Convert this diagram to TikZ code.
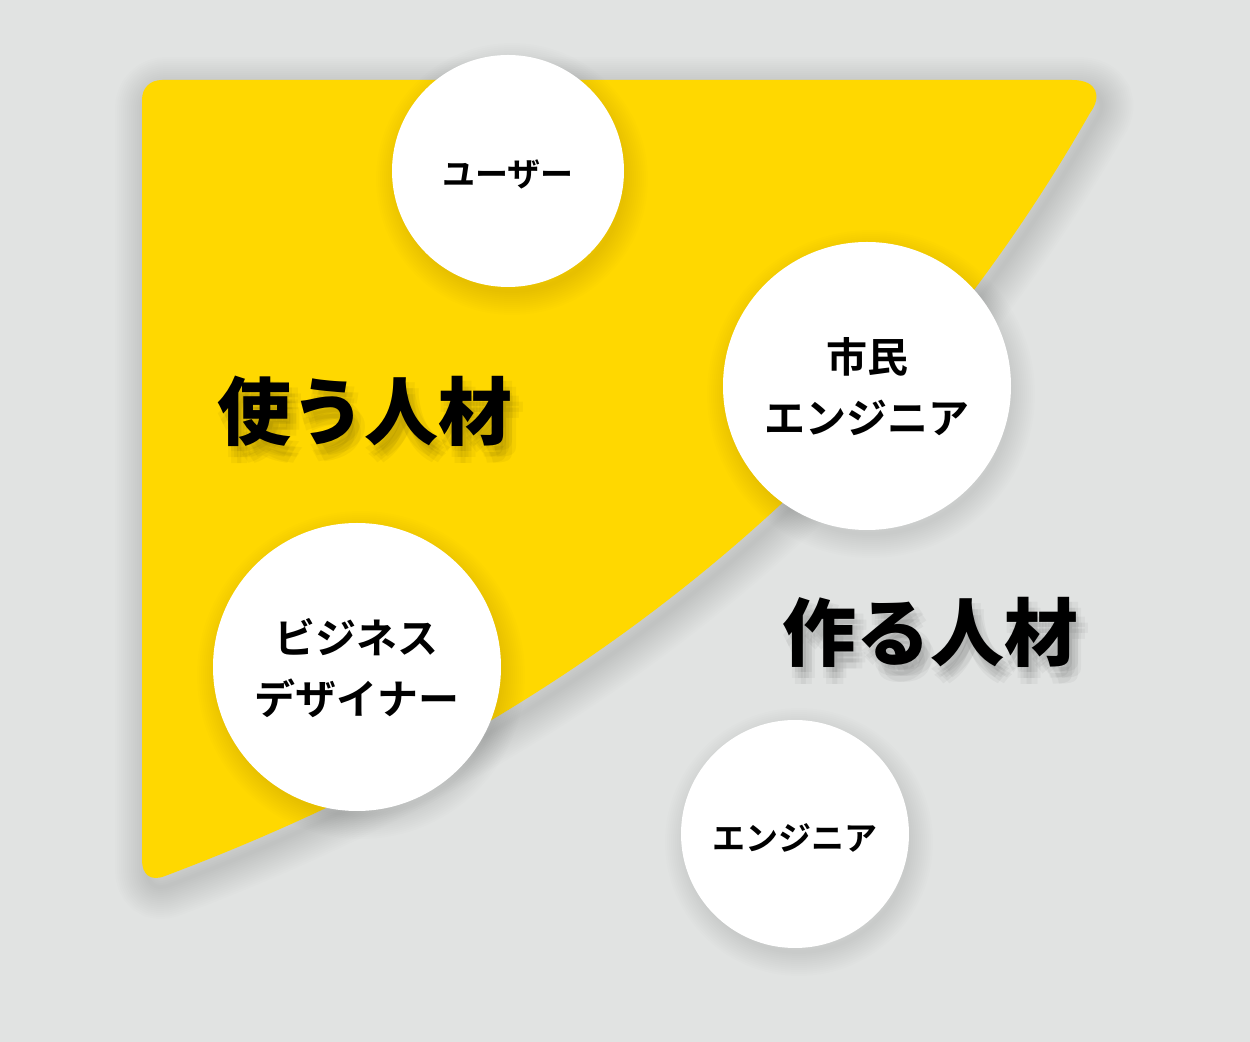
\documentclass[tikz,border=0pt]{standalone}
\usepackage{fontspec}
\newfontfamily\jpb{Noto Sans CJK JP}[UprightFont=* Bold]
\newfontfamily\jpk{Noto Sans CJK JP}[UprightFont=* Black]
\definecolor{bg}{RGB}{225,227,226}
\definecolor{ylw}{RGB}{255,216,0}
\newcommand\yellowpath{(142,100) .. controls (142,88) and (150,80) .. (162,80) -- (1072,80) .. controls (1098,80) and (1102,97) .. (1090,113) .. controls (890,464) and (582,719) .. (165,876) .. controls (150,882) and (142,874) .. (142,860) -- cycle}
\tikzset{
  disc/.style={circle, fill=white, inner sep=0pt},
  smalllabel/.style={font=\jpb\fontsize{16.5}{24}\selectfont},
  largelabel/.style={font=\jpb\fontsize{20.5}{30.5}\selectfont, align=center},
  bigtext/.style={font=\jpk\fontsize{37}{40}\selectfont, inner sep=0pt},
  shadowtext/.style={bigtext, text=black, text opacity=0.04},
}
\begin{document}
\begin{tikzpicture}[x=0.5pt,y=-0.5pt]
\fill[bg] (0,0) rectangle (1250,1042);
\useasboundingbox (0,0) rectangle (1250,1042);
% soft shadow of the yellow area
\begin{scope}[shift={(5,9)}]
\foreach \w in {4,8,...,64} \draw[black, opacity=0.007, line width=\w*0.5pt] \yellowpath;
\end{scope}
\fill[ylw] \yellowpath;
% soft circle shadows
\foreach \cx/\cy/\r in {508/171/116, 867/386/144, 357/667/144, 795/834/114} {
  \foreach \w in {4,8,...,48} \draw[black, opacity=0.006, line width=\w*0.5pt] (\cx+4,\cy+8) circle[radius=\r-4];
}
% circles
\node[disc, minimum size=116pt] (user) at (508,171) {};
\node[disc, minimum size=144pt] (citizen) at (867,386) {};
\node[disc, minimum size=144pt] (biz) at (357,667) {};
\node[disc, minimum size=114pt] (eng) at (795,834) {};
\node[smalllabel] (userl) at (508,174) {ユーザー};
\node[largelabel] (citizenl) at (867,387) {市民\\エンジニア};
\node[largelabel] (bizl) at (357,668) {ビジネス\\デザイナー};
\node[smalllabel] (engl) at (795,838) {エンジニア};
% big labels with soft shadow
\foreach \dx/\dy in {3/5,9/5,0/11,6/11,12/11,3/17,9/17} {
  \node[shadowtext] at (365+\dx,411+\dy) {使う人材};
  \node[shadowtext] at (930+\dx,632+\dy) {作る人材};
}
\node[bigtext] (use) at (365,411) {使う人材};
\node[bigtext] (make) at (930,632) {作る人材};
\end{tikzpicture}
\end{document}
